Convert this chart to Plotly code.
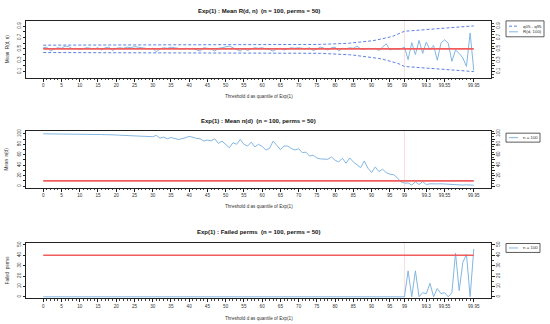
import plotly.graph_objects as go

# ---------------- data ----------------
idx = list(range(119))
tick_pos = [0, 5, 10, 15, 20, 25, 30, 35, 40, 45, 50, 55, 60, 65, 70, 75, 80, 85, 90, 95, 99, 105, 110, 118]
tick_lab = ["0", "5", "10", "15", "20", "25", "30", "35", "40", "45", "50", "55", "60", "65", "70", "75",
            "80", "85", "90", "95", "99", "99.3", "99.55", "99.95"]

r_vals = [0.52, 0.53, 0.46, 0.50, 0.52, 0.51, 0.55, 0.54, 0.50, 0.51,
          0.49, 0.50, 0.52, 0.51, 0.50, 0.52, 0.48, 0.52, 0.53, 0.47,
          0.51, 0.52, 0.51, 0.53, 0.52, 0.54, 0.53, 0.52, 0.51, 0.50,
          0.51, 0.45, 0.50, 0.52, 0.51, 0.53, 0.52, 0.51, 0.50, 0.51,
          0.50, 0.51, 0.49, 0.46, 0.52, 0.51, 0.50, 0.46, 0.51, 0.52,
          0.53, 0.55, 0.52, 0.49, 0.46, 0.51, 0.47, 0.50, 0.52, 0.51,
          0.52, 0.50, 0.49, 0.46, 0.50, 0.51, 0.48, 0.50, 0.52, 0.51,
          0.52, 0.51, 0.50, 0.52, 0.47, 0.50, 0.53, 0.51, 0.48, 0.52,
          0.53, 0.465, 0.51, 0.50, 0.52, 0.51, 0.55, 0.50, 0.49, 0.51,
          0.50, 0.51, 0.47, 0.53, 0.59, 0.48, 0.50, 0.49, 0.50, 0.53,
          0.31, 0.61, 0.40, 0.65, 0.42, 0.62, 0.48, 0.56, 0.30, 0.60,
          0.66, 0.60, 0.28, 0.48, 0.42, 0.34, 0.19, 0.78, 0.12]

q95 = [0.565, 0.565, 0.565, 0.565, 0.565, 0.565, 0.565, 0.565, 0.565, 0.565,
       0.565, 0.565, 0.565, 0.565, 0.565, 0.565, 0.565, 0.565, 0.565, 0.565,
       0.565, 0.565, 0.565, 0.565, 0.565, 0.565, 0.565, 0.565, 0.565, 0.565,
       0.565, 0.565, 0.565, 0.566, 0.566, 0.566, 0.566, 0.566, 0.567, 0.567,
       0.567, 0.567, 0.567, 0.568, 0.568, 0.568, 0.568, 0.568, 0.568, 0.569,
       0.569, 0.569, 0.569, 0.569, 0.569, 0.569, 0.570, 0.570, 0.570, 0.570,
       0.570, 0.570, 0.571, 0.571, 0.572, 0.572, 0.573, 0.573, 0.574, 0.574,
       0.575, 0.575, 0.576, 0.576, 0.577, 0.578, 0.579, 0.580, 0.582, 0.584,
       0.586, 0.589, 0.592, 0.596, 0.601, 0.606, 0.612, 0.619, 0.626, 0.633,
       0.641, 0.652, 0.664, 0.677, 0.692, 0.708, 0.727, 0.750, 0.775, 0.810,
       0.815, 0.820, 0.826, 0.830, 0.834, 0.838, 0.842, 0.846, 0.850, 0.854,
       0.858, 0.862, 0.866, 0.870, 0.875, 0.882, 0.890, 0.897, 0.905]

q05 = [0.435, 0.435, 0.435, 0.435, 0.435, 0.435, 0.435, 0.435, 0.435, 0.435,
       0.435, 0.435, 0.435, 0.435, 0.435, 0.435, 0.435, 0.435, 0.435, 0.435,
       0.435, 0.435, 0.435, 0.435, 0.435, 0.435, 0.435, 0.435, 0.435, 0.435,
       0.435, 0.435, 0.435, 0.434, 0.434, 0.434, 0.434, 0.434, 0.433, 0.433,
       0.433, 0.433, 0.433, 0.432, 0.432, 0.432, 0.432, 0.432, 0.432, 0.431,
       0.431, 0.431, 0.431, 0.431, 0.431, 0.431, 0.430, 0.430, 0.430, 0.430,
       0.430, 0.430, 0.429, 0.429, 0.428, 0.428, 0.427, 0.427, 0.426, 0.426,
       0.425, 0.425, 0.424, 0.424, 0.423, 0.422, 0.421, 0.419, 0.417, 0.415,
       0.412, 0.409, 0.405, 0.401, 0.396, 0.390, 0.383, 0.376, 0.369, 0.362,
       0.354, 0.343, 0.331, 0.318, 0.303, 0.288, 0.270, 0.248, 0.222, 0.190,
       0.185, 0.180, 0.174, 0.168, 0.163, 0.158, 0.153, 0.148, 0.143, 0.138,
       0.134, 0.130, 0.126, 0.122, 0.118, 0.113, 0.108, 0.104, 0.100]

n_d = [100, 100, 100, 99.8, 99.7, 99.6, 99.5, 99.5, 99.4, 99.3,
       99.2, 99.0, 98.9, 98.8, 98.8, 98.7, 98.6, 98.4, 98.6, 98.2,
       97.8, 97.3, 97.0, 96.3, 96.5, 95.4, 95.7, 95.5, 95.0, 94.3,
       94.5, 97.0, 91.8, 93.7, 90.5, 93.0, 91.8, 89.2, 90.5, 92.4,
       95.0, 93.5, 91.2, 90.5, 86.1, 88.0, 86.5, 90.5, 81.7, 86.0,
       80.0, 73.4, 83.0, 80.0, 89.2, 80.0, 76.6, 84.0, 75.0, 80.0,
       76.0, 69.0, 72.0, 86.0, 78.0, 70.0, 76.6, 76.6, 72.0, 69.0,
       71.5, 64.0, 65.0, 57.6, 59.0, 53.8, 52.0, 51.3, 51.3, 55.7,
       49.4, 46.2, 53.2, 43.7, 53.8, 46.2, 39.9, 35.4, 48.0, 34.2,
       26.0, 36.7, 27.8, 32.3, 25.9, 22.8, 22.0, 16.3, 8.2, 5.7,
       6.0, 2.0, 8.2, 3.0, 8.7, 3.0, 4.5, 4.0, 4.2, 4.5,
       4.0, 4.8, 3.5, 2.5, 3.2, 2.0, 2.5, 2.0, 1.8]

fail = [0] * 100 + [25, 0, 25, 0, 4, 3, 13, 0, 8, 3, 4, 0, 4, 42, 6, 33, 41, 0, 46]

r_ref = 0.5
n_ref = 10
fail_ref = 40
split_idx = 99

# ---------------- styling ----------------
W, H = 550, 324
FONT = "Liberation Sans"
C_LINE = "#82b6e2"
C_DASH = "#5b7fe6"
C_RED = "#f25c5c"
C_VLINE = "#f6d6d6"

L, R = 26, 491
panels = [(19, 76), (130, 187), (242, 298)]
yranges = [[-0.005, 0.993], [-3.3, 105], [-1.3, 52.2]]


def ydom(t, b):
    return [1 - b / H, 1 - t / H]


fig = go.Figure()

fig.add_trace(go.Scatter(x=idx, y=q95, mode="lines", line=dict(color=C_DASH, width=1, dash="3px,2px"),
                         xaxis="x", yaxis="y", showlegend=False, hoverinfo="skip"))
fig.add_trace(go.Scatter(x=idx, y=q05, mode="lines", line=dict(color=C_DASH, width=1, dash="3px,2px"),
                         xaxis="x", yaxis="y", showlegend=False, hoverinfo="skip"))
fig.add_trace(go.Scatter(x=[0, 118], y=[r_ref, r_ref], mode="lines", line=dict(color=C_RED, width=1.6),
                         xaxis="x", yaxis="y4", showlegend=False, hoverinfo="skip"))
fig.add_trace(go.Scatter(x=idx, y=r_vals, mode="lines", line=dict(color=C_LINE, width=1),
                         xaxis="x", yaxis="y", showlegend=False))

fig.add_trace(go.Scatter(x=[0, 118], y=[n_ref, n_ref], mode="lines", line=dict(color=C_RED, width=1.6),
                         xaxis="x2", yaxis="y5", showlegend=False, hoverinfo="skip"))
fig.add_trace(go.Scatter(x=idx, y=n_d, mode="lines", line=dict(color=C_LINE, width=1),
                         xaxis="x2", yaxis="y2", showlegend=False))

fig.add_trace(go.Scatter(x=[0, 118], y=[fail_ref, fail_ref], mode="lines", line=dict(color=C_RED, width=1.6),
                         xaxis="x3", yaxis="y6", showlegend=False, hoverinfo="skip"))
fig.add_trace(go.Scatter(x=idx, y=fail, mode="lines", line=dict(color=C_LINE, width=1),
                         xaxis="x3", yaxis="y3", showlegend=False))

xdom = [L / W, R / W]
xcommon = dict(domain=xdom, range=[-4.72, 122.72], tickmode="array", tickvals=tick_pos, ticktext=tick_lab,
               ticks="outside", ticklen=3, tickwidth=0.8, tickcolor="#222",
               minor=dict(tickvals=idx, ticks="outside", ticklen=1.6, tickwidth=0.6, tickcolor="#444"),
               showline=True, mirror=True, linecolor="#222", linewidth=1, showgrid=False, zeroline=False,
               tickfont=dict(family=FONT, size=4.6, color="#333"))

ytick_specs = [
    (["0.1", "", "0.3", "", "0.5", "", "0.7", "", "0.9"], [0.1, 0.2, 0.3, 0.4, 0.5, 0.6, 0.7, 0.8, 0.9], 0.05),
    (["0", "", "20", "", "40", "", "60", "", "80", "", "100"], [0, 10, 20, 30, 40, 50, 60, 70, 80, 90, 100], 5),
    (["0", "10", "20", "30", "40", "50"], [0, 10, 20, 30, 40, 50], 5),
]

for k in range(3):
    sfx = "" if k == 0 else str(k + 1)
    t, b = panels[k]
    fig.layout["xaxis" + sfx] = dict(xcommon, anchor="y" + sfx)
    labs, vals, mdt = ytick_specs[k]
    ycommon = dict(domain=ydom(t, b), range=yranges[k], tickmode="array", tickvals=vals, ticktext=labs,
                   ticks="outside", ticklen=2.5, tickwidth=0.8, tickcolor="#222", tickangle=-90,
                   showgrid=False, zeroline=False, tickfont=dict(family=FONT, size=4.6, color="#333"))
    fig.layout["yaxis" + sfx] = dict(ycommon, anchor="x" + sfx, showline=True, mirror=True,
                                     linecolor="#222", linewidth=1)
    fig.layout["yaxis" + str(k + 4)] = dict(ycommon, anchor="x" + sfx, overlaying="y" + sfx, side="right",
                                            minor=dict(dtick=mdt, tick0=0, ticks="outside", ticklen=1.6,
                                                       tickwidth=0.6, tickcolor="#444"))
    fig.add_shape(type="line", xref="x" + sfx, yref="y" + sfx + " domain", x0=split_idx, x1=split_idx,
                  y0=0, y1=1, line=dict(color=C_VLINE, width=0.8), layer="below")

titles = ["Exp(1) : Mean R(d, n)  (n = 100, perms = 50)",
          "Exp(1) : Mean n(d)  (n = 100, perms = 50)",
          "Exp(1) : Failed perms  (n = 100, perms = 50)"]
title_y = [9, 120, 231.5]
xlab_y = [95, 205.5, 318]
ylabs = ["Mean  R(d, n)", "Mean  n(d)", "Failed  perms"]

ann = []
cx = (L + R) / 2 / W
for k in range(3):
    t, b = panels[k]
    ann.append(dict(x=cx, y=1 - title_y[k] / H, xref="paper", yref="paper", text="<b>" + titles[k] + "</b>",
                    showarrow=False, font=dict(family=FONT, size=6, color="#111"), xanchor="center",
                    yanchor="middle"))
    ann.append(dict(x=cx, y=1 - xlab_y[k] / H, xref="paper", yref="paper", text="Threshold d as quantile of Exp(1)",
                    showarrow=False, font=dict(family=FONT, size=4.6, color="#333"), xanchor="center",
                    yanchor="middle"))
    ann.append(dict(x=7 / W, y=1 - (t + b) / 2 / H, xref="paper", yref="paper", text=ylabs[k], textangle=-90,
                    showarrow=False, font=dict(family=FONT, size=4.6, color="#333"), xanchor="center",
                    yanchor="middle"))


def px(xp):
    return xp / W


def py(yp):
    return 1 - yp / H


legends = [
    (506, 544, 19, 35, [(24.3, "q05 - q95", C_DASH, "3px,2px"), (30, "R(d, 100)", C_LINE, "solid")]),
    (506, 540, 132, 141, [(136.5, "n = 100", C_LINE, "solid")]),
    (506, 540, 243, 252, [(247.5, "n = 100", C_LINE, "solid")]),
]
for (x0, x1, y0, y1, items) in legends:
    fig.add_shape(type="rect", xref="paper", yref="paper", x0=px(x0), x1=px(x1), y0=py(y1), y1=py(y0),
                  line=dict(color="#333", width=0.8), fillcolor="white")
    for (yy, txt, col, dsh) in items:
        fig.add_shape(type="line", xref="paper", yref="paper", x0=px(x0 + 3), x1=px(x0 + 12), y0=py(yy), y1=py(yy),
                      line=dict(color=col, width=1, dash=dsh))
        ann.append(dict(x=px(x0 + 15), y=py(yy), xref="paper", yref="paper", text=txt, showarrow=False,
                        font=dict(family=FONT, size=4.4, color="#333"), xanchor="left", yanchor="middle"))

fig.update_layout(width=W, height=H, margin=dict(l=0, r=0, t=0, b=0), paper_bgcolor="white",
                  plot_bgcolor="white", annotations=ann, showlegend=False)

fig.write_html("out.html", config={"displayModeBar": False},
               post_script="document.body.style.margin='0';document.body.style.overflow='hidden';")
